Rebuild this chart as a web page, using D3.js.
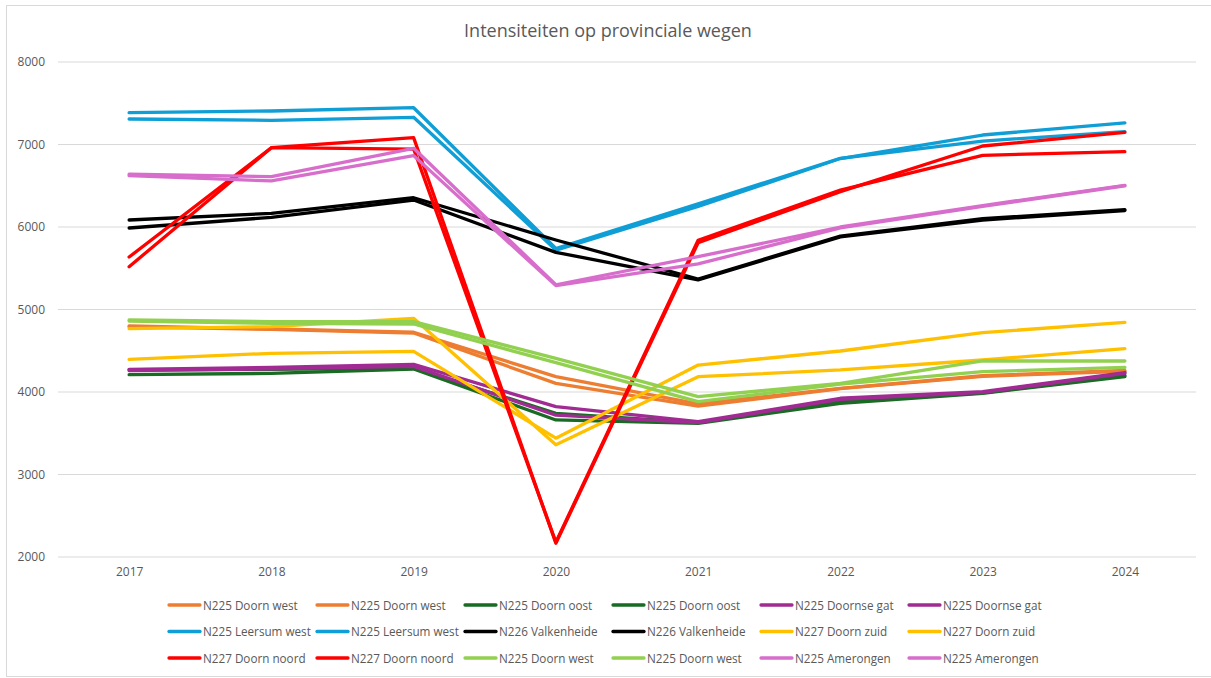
<!DOCTYPE html>
<html>
<head>
<meta charset="utf-8">
<script src="https://cdn.jsdelivr.net/npm/d3@7"></script>
<style>
  body { margin: 0; background: #fff; }
  text { font-family: "Open Sans", "Noto Sans", sans-serif; fill: #595959; }
</style>
</head>
<body>
<svg id="chart" width="1211" height="678"></svg>
<script>
// data
const years = ["2017", "2018", "2019", "2020", "2021", "2022", "2023", "2024"];
const yTicks = [2000, 3000, 4000, 5000, 6000, 7000, 8000];

const names = [
  "N225 Doorn west", "N225 Doorn west", "N225 Doorn oost", "N225 Doorn oost",
  "N225 Doornse gat", "N225 Doornse gat", "N225 Leersum west", "N225 Leersum west",
  "N226 Valkenheide", "N226 Valkenheide", "N227 Doorn zuid", "N227 Doorn zuid",
  "N227 Doorn noord", "N227 Doorn noord", "N225 Doorn west", "N225 Doorn west",
  "N225 Amerongen", "N225 Amerongen"
];
const colors = [
  "#ED7D31", "#ED7D31", "#196B24", "#196B24", "#A02B93", "#A02B93",
  "#0F9ED5", "#0F9ED5", "#000000", "#000000", "#FFC000", "#FFC000",
  "#FF0000", "#FF0000", "#92D050", "#92D050", "#D86ECC", "#D86ECC"
];

const doornWestA   = [4800, 4764, 4724, 4186, 3855, 4045, 4197, 4261];
const doornWestB   = [4790, 4760, 4715, 4105, 3830, 4040, 4190, 4250];
const doornOostA   = [4270, 4275, 4290, 3742, 3630, 3880, 3990, 4200];
const doornOostB   = [4210, 4226, 4279, 3661, 3620, 3863, 3984, 4186];
const doornseGatA  = [4275, 4299, 4336, 3822, 3640, 3924, 4004, 4236];
const doornseGatB  = [4260, 4280, 4310, 3720, 3630, 3910, 3995, 4225];
const leersumA     = [7386, 7406, 7446, 5740, 6280, 6833, 7042, 7156];
const leersumB     = [7309, 7293, 7330, 5720, 6250, 6830, 7115, 7261];
const valkenheideA = [6085, 6166, 6355, 5842, 5370, 5890, 6100, 6210];
const valkenheideB = [5988, 6117, 6327, 5693, 5360, 5880, 6085, 6200];
const zuidA        = [4767, 4792, 4893, 3360, 4186, 4267, 4388, 4525];
const zuidB        = [4396, 4469, 4493, 3440, 4327, 4497, 4719, 4845];
const noordA       = [5636, 6961, 6945, 2180, 5840, 6448, 6869, 6913];
const noordB       = [5519, 6961, 7083, 2166, 5810, 6428, 6982, 7147];
const westGreenA   = [4873, 4852, 4852, 4408, 3943, 4105, 4376, 4376];
const westGreenB   = [4860, 4833, 4824, 4355, 3883, 4095, 4246, 4299];
const amerongenA   = [6640, 6610, 6954, 5300, 5640, 6000, 6260, 6505];
const amerongenB   = [6622, 6558, 6865, 5290, 5552, 5990, 6250, 6500];

const values = [
  doornWestA, doornWestB, doornOostA, doornOostB, doornseGatA, doornseGatB,
  leersumA, leersumB, valkenheideA, valkenheideB, zuidA, zuidB,
  noordA, noordB, westGreenA, westGreenB, amerongenA, amerongenB
];

const series = names.map((n, i) => ({ name: n, color: colors[i], values: values[i] }));

const svg = d3.select("#chart");

// chart border
svg.append("rect")
  .attr("x", 6.5).attr("y", 5.5)
  .attr("width", 1215).attr("height", 671)
  .attr("fill", "none").attr("stroke", "#d9d9d9");

svg.append("text")
  .attr("x", 608).attr("y", 37)
  .attr("text-anchor", "middle")
  .attr("font-size", "18px")
  .text("Intensiteiten op provinciale wegen");

const plotLeft = 58, plotRight = 1196, plotTop = 62, plotBottom = 557;

const x = d3.scalePoint().domain(years).range([plotLeft, plotRight]).padding(0.5);
const y = d3.scaleLinear().domain([2000, 8000]).range([plotBottom, plotTop]);

// gridlines
svg.append("g")
  .selectAll("line")
  .data(yTicks)
  .enter().append("line")
  .attr("x1", plotLeft).attr("x2", plotRight)
  .attr("y1", d => y(d)).attr("y2", d => y(d))
  .attr("stroke", "#d9d9d9").attr("stroke-width", 1);

const yAxis = svg.append("g")
  .attr("transform", "translate(" + 45 + ",0)")
  .call(d3.axisLeft(y).tickValues(yTicks).tickFormat(d3.format("d")).tickSize(0).tickPadding(0));
yAxis.select(".domain").remove();
yAxis.selectAll("text").attr("font-size", "12px").attr("fill", "#595959")
  .style("font-family", "'Open Sans', sans-serif");

const xAxis = svg.append("g")
  .attr("transform", "translate(0," + (plotBottom + 8) + ")")
  .call(d3.axisBottom(x).tickSize(0).tickPadding(2));
xAxis.select(".domain").remove();
xAxis.selectAll("text").attr("font-size", "12px").attr("fill", "#595959")
  .style("font-family", "'Open Sans', sans-serif");

const line = d3.line()
  .x((d, i) => x(years[i]))
  .y(d => y(d));

svg.append("g")
  .selectAll("path")
  .data(series)
  .enter().append("path")
  .attr("d", d => line(d.values))
  .attr("fill", "none")
  .attr("stroke", d => d.color)
  .attr("stroke-width", 3.3)
  .attr("stroke-linejoin", "round")
  .attr("stroke-linecap", "round");

// legend, 6 per row
const legend = svg.append("g")
  .selectAll("g")
  .data(series)
  .enter().append("g")
  .attr("transform", (d, i) => "translate(" + (169 + (i % 6) * 148) + "," + (605 + Math.floor(i / 6) * 26.5) + ")");

legend.append("line")
  .attr("x1", 0).attr("x2", 31)
  .attr("stroke", d => d.color)
  .attr("stroke-width", 3.3)
  .attr("stroke-linecap", "round");

legend.append("text")
  .attr("x", 34).attr("y", 4.5)
  .attr("font-size", "11.7px")
  .text(d => d.name);
</script>
</body>
</html>
